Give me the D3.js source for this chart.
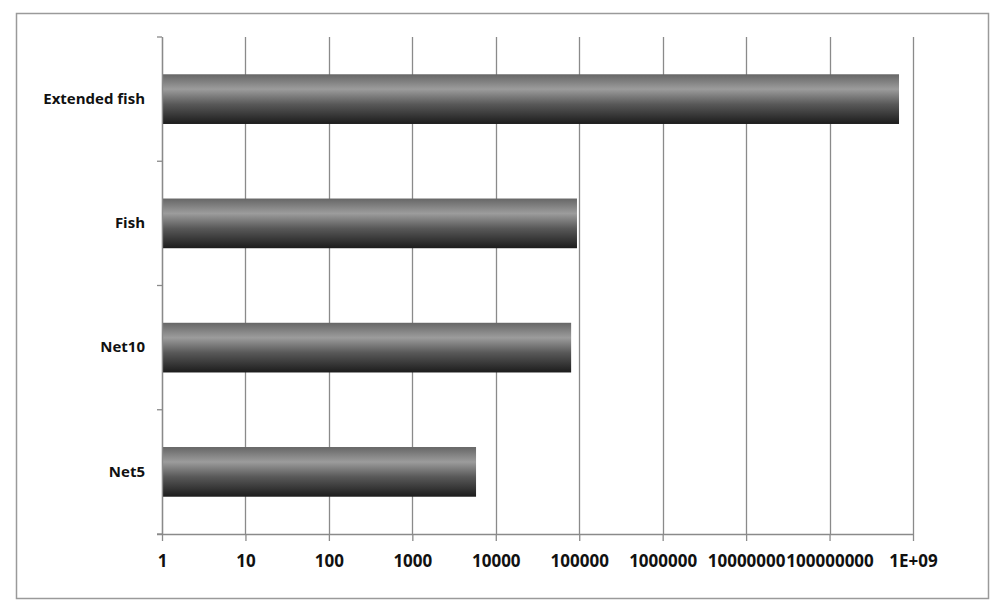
<!DOCTYPE html>
<html lang="en">
<head>
	<meta charset="UTF-8">
	<title>Chart</title>
	<script type="text/javascript" src="https://cdn.jsdelivr.net/npm/d3@7/dist/d3.min.js"></script>
	<style>
		body { margin: 0; background: #fff; }
	</style>
</head>
<body>
	<div class="chart"></div>
	<script type="text/javascript">
		// data
		var categories = ['Extended fish', 'Fish', 'Net10', 'Net5'];
		var values = [680000000, 94000, 80000, 5800];
		var tickValues = [1, 10, 100, 1000, 10000, 100000, 1000000, 10000000, 100000000, 1000000000];
		var tickLabels = ['1', '10', '100', '1000', '10000', '100000', '1000000', '10000000', '100000000', '1E+09'];

		var W = 1000, H = 614;
		var plotL = 162, plotR = 913, plotT = 37, plotB = 534;
		var gridColor = '#8a8a8a';

		var svg = d3.select('.chart').append('svg')
			.attr('width', W).attr('height', H);

		// outer frame
		svg.append('rect')
			.attr('x', 16.5).attr('y', 13.5)
			.attr('width', 972).attr('height', 585)
			.attr('fill', '#fff')
			.attr('stroke', '#9a9a9a')
			.attr('stroke-width', 1.5);

		var defs = svg.append('defs');
		var grad = defs.append('linearGradient')
			.attr('id', 'barGrad')
			.attr('x1', 0).attr('y1', 0).attr('x2', 0).attr('y2', 1);
		[[0, '#666'], [0.3, '#9c9c9c'], [0.6, '#595959'], [1, '#1c1c1c']].forEach(function(s){
			grad.append('stop').attr('offset', s[0]).attr('stop-color', s[1]);
		});

		var x = d3.scaleLog().domain([1, 1e9]).range([plotL, plotR]);
		var y = d3.scaleBand().domain(categories).range([plotT, plotB])
			.paddingInner(0.6).paddingOuter(0.3);

		// vertical gridlines
		svg.append('g').selectAll('line').data(tickValues).enter()
			.append('line')
			.attr('x1', function(d){ return Math.round(x(d)) + 0.5; })
			.attr('x2', function(d){ return Math.round(x(d)) + 0.5; })
			.attr('y1', plotT)
			.attr('y2', plotB)
			.attr('stroke', gridColor)
			.attr('stroke-width', 1.3);

		// bars
		svg.append('g').selectAll('rect').data(values).enter()
			.append('rect')
			.attr('x', x(1))
			.attr('y', function(d, i){ return y(categories[i]); })
			.attr('width', function(d){ return x(d) - x(1); })
			.attr('height', y.bandwidth())
			.attr('fill', 'url(#barGrad)');

		// x axis
		var xAxis = d3.axisBottom(x)
			.tickValues(tickValues)
			.tickFormat(function(d, i){ return tickLabels[i]; })
			.tickSize(7)
			.tickPadding(14);
		var gx = svg.append('g')
			.attr('transform', 'translate(0,' + plotB + ')')
			.call(xAxis);
		gx.select('.domain').attr('stroke', gridColor).attr('stroke-width', 1.3)
			.attr('d', 'M' + (plotL - 5) + ',0.5H' + plotR);
		gx.selectAll('.tick line').attr('stroke', gridColor).attr('stroke-width', 1.3);
		gx.selectAll('.tick text').attr('font-size', 17).attr('fill', '#111')
			.attr('font-family', '"Open Sans", sans-serif').attr('font-weight', 'bold');

		// y axis
		var yAxis = d3.axisLeft(y).tickSize(0).tickPadding(17);
		var gy = svg.append('g')
			.attr('transform', 'translate(' + plotL + ',0)')
			.call(yAxis);
		gy.select('.domain').attr('stroke', gridColor).attr('stroke-width', 1.3);
		gy.selectAll('.tick text').attr('font-size', 15).attr('fill', '#111')
			.attr('font-family', '"Open Sans", sans-serif').attr('font-weight', 'bold');

		// y tick marks between categories
		var bounds = d3.range(categories.length + 1).map(function(i){
			return plotT + i * (plotB - plotT) / categories.length;
		});
		gy.selectAll('.sep').data(bounds).enter()
			.append('line')
			.attr('class', 'sep')
			.attr('x1', -5).attr('x2', 0)
			.attr('y1', function(d){ return d; })
			.attr('y2', function(d){ return d; })
			.attr('stroke', gridColor).attr('stroke-width', 1.3);
	</script>
</body>
</html>
